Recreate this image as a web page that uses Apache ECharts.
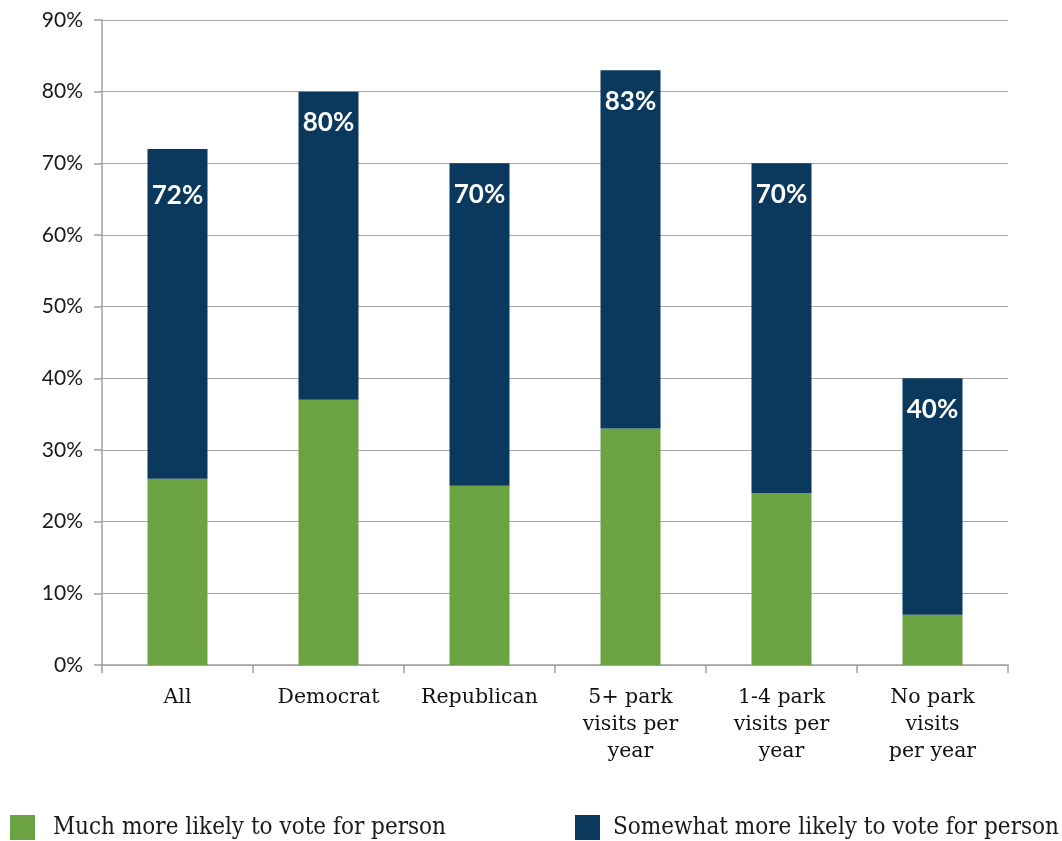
<!DOCTYPE html>
<html>
<head>
<meta charset="utf-8">
<script src="https://cdn.jsdelivr.net/npm/echarts@6/dist/echarts.min.js"></script>
<style>
  html, body { margin: 0; padding: 0; background: #ffffff; }
  #chart { width: 1062px; height: 841px; }
</style>
</head>
<body>
<div id="chart"></div>
<script>
// Groups of respondents
const categories = ['All', 'Democrat', 'Republican', '5+ park\nvisits per\nyear', '1-4 park\nvisits per\nyear', 'No park\nvisits\nper year'];
// Share "much more likely" (%)
const muchMore = [26, 37, 25, 33, 24, 7];
// Combined share more likely (%), shown on top of each stack
const totalMore = [72, 80, 70, 83, 70, 40];
// Share "somewhat more likely" (%) = total minus the "much more" part
const somewhatMore = totalMore.map((t, i) => t - muchMore[i]);

const seriesNames = ['Much more likely to vote for person', 'Somewhat more likely to vote for person'];
const GREEN = '#6ba342';
const NAVY = '#0b395d';
const serifFont = '"DejaVu Serif", serif';
const legendFont = '"DejaVu Serif Condensed", "DejaVu Serif", serif';

// The first total label sits a little lower inside its bar
const somewhatData = somewhatMore.map((v, i) => i === 0
  ? { value: v, label: { distance: 34 } }
  : { value: v });

const chart = echarts.init(document.getElementById('chart'), null, { renderer: 'canvas' });
chart.setOption({
  animation: false,
  backgroundColor: '#ffffff',
  grid: { left: 102, right: 54, top: 20, bottom: 176, containLabel: false },
  legend: [
    {
      data: [seriesNames[0]], left: 10, bottom: 1, padding: 0, itemWidth: 25, itemHeight: 25, icon: 'rect',
      textStyle: { fontFamily: legendFont, fontSize: 24, color: '#1a1a1a', padding: [0, 0, 0, 13] }
    },
    {
      data: [seriesNames[1]], left: 575, bottom: 1, padding: 0, itemWidth: 25, itemHeight: 25, icon: 'rect',
      textStyle: { fontFamily: legendFont, fontSize: 24, color: '#1a1a1a', padding: [0, 0, 0, 8] }
    }
  ],
  xAxis: {
    type: 'category',
    data: categories,
    axisLine: { show: true, lineStyle: { color: '#a0a0a0', width: 1.5 } },
    axisTick: { show: true, length: 8, lineStyle: { color: '#a0a0a0', width: 1.5 } },
    axisLabel: {
      margin: 19, fontFamily: serifFont, fontSize: 20.5, color: '#111111', lineHeight: 27, interval: 0
    }
  },
  yAxis: {
    type: 'value', min: 0, max: 90, interval: 10,
    axisLine: { show: true, lineStyle: { color: '#a0a0a0', width: 1.5 } },
    axisTick: { show: true, length: 8, lineStyle: { color: '#a0a0a0', width: 1.5 } },
    splitLine: { lineStyle: { color: '#a6a6a6', width: 1.2 } },
    axisLabel: {
      formatter: '{value}%', margin: 19, fontFamily: 'Lato', fontSize: 21, color: '#1a1a1a'
    }
  },
  series: [
    {
      name: seriesNames[0], type: 'bar', stack: 'likely', barWidth: 60,
      itemStyle: { color: GREEN }, data: muchMore
    },
    {
      name: seriesNames[1], type: 'bar', stack: 'likely', barWidth: 60,
      itemStyle: { color: NAVY }, data: somewhatData,
      label: {
        show: true, position: 'insideTop', distance: 18,
        formatter: p => totalMore[p.dataIndex] + '%',
        fontFamily: 'Lato', fontWeight: 'bold', fontSize: 26, color: '#ffffff'
      }
    }
  ]
});
</script>
</body>
</html>
